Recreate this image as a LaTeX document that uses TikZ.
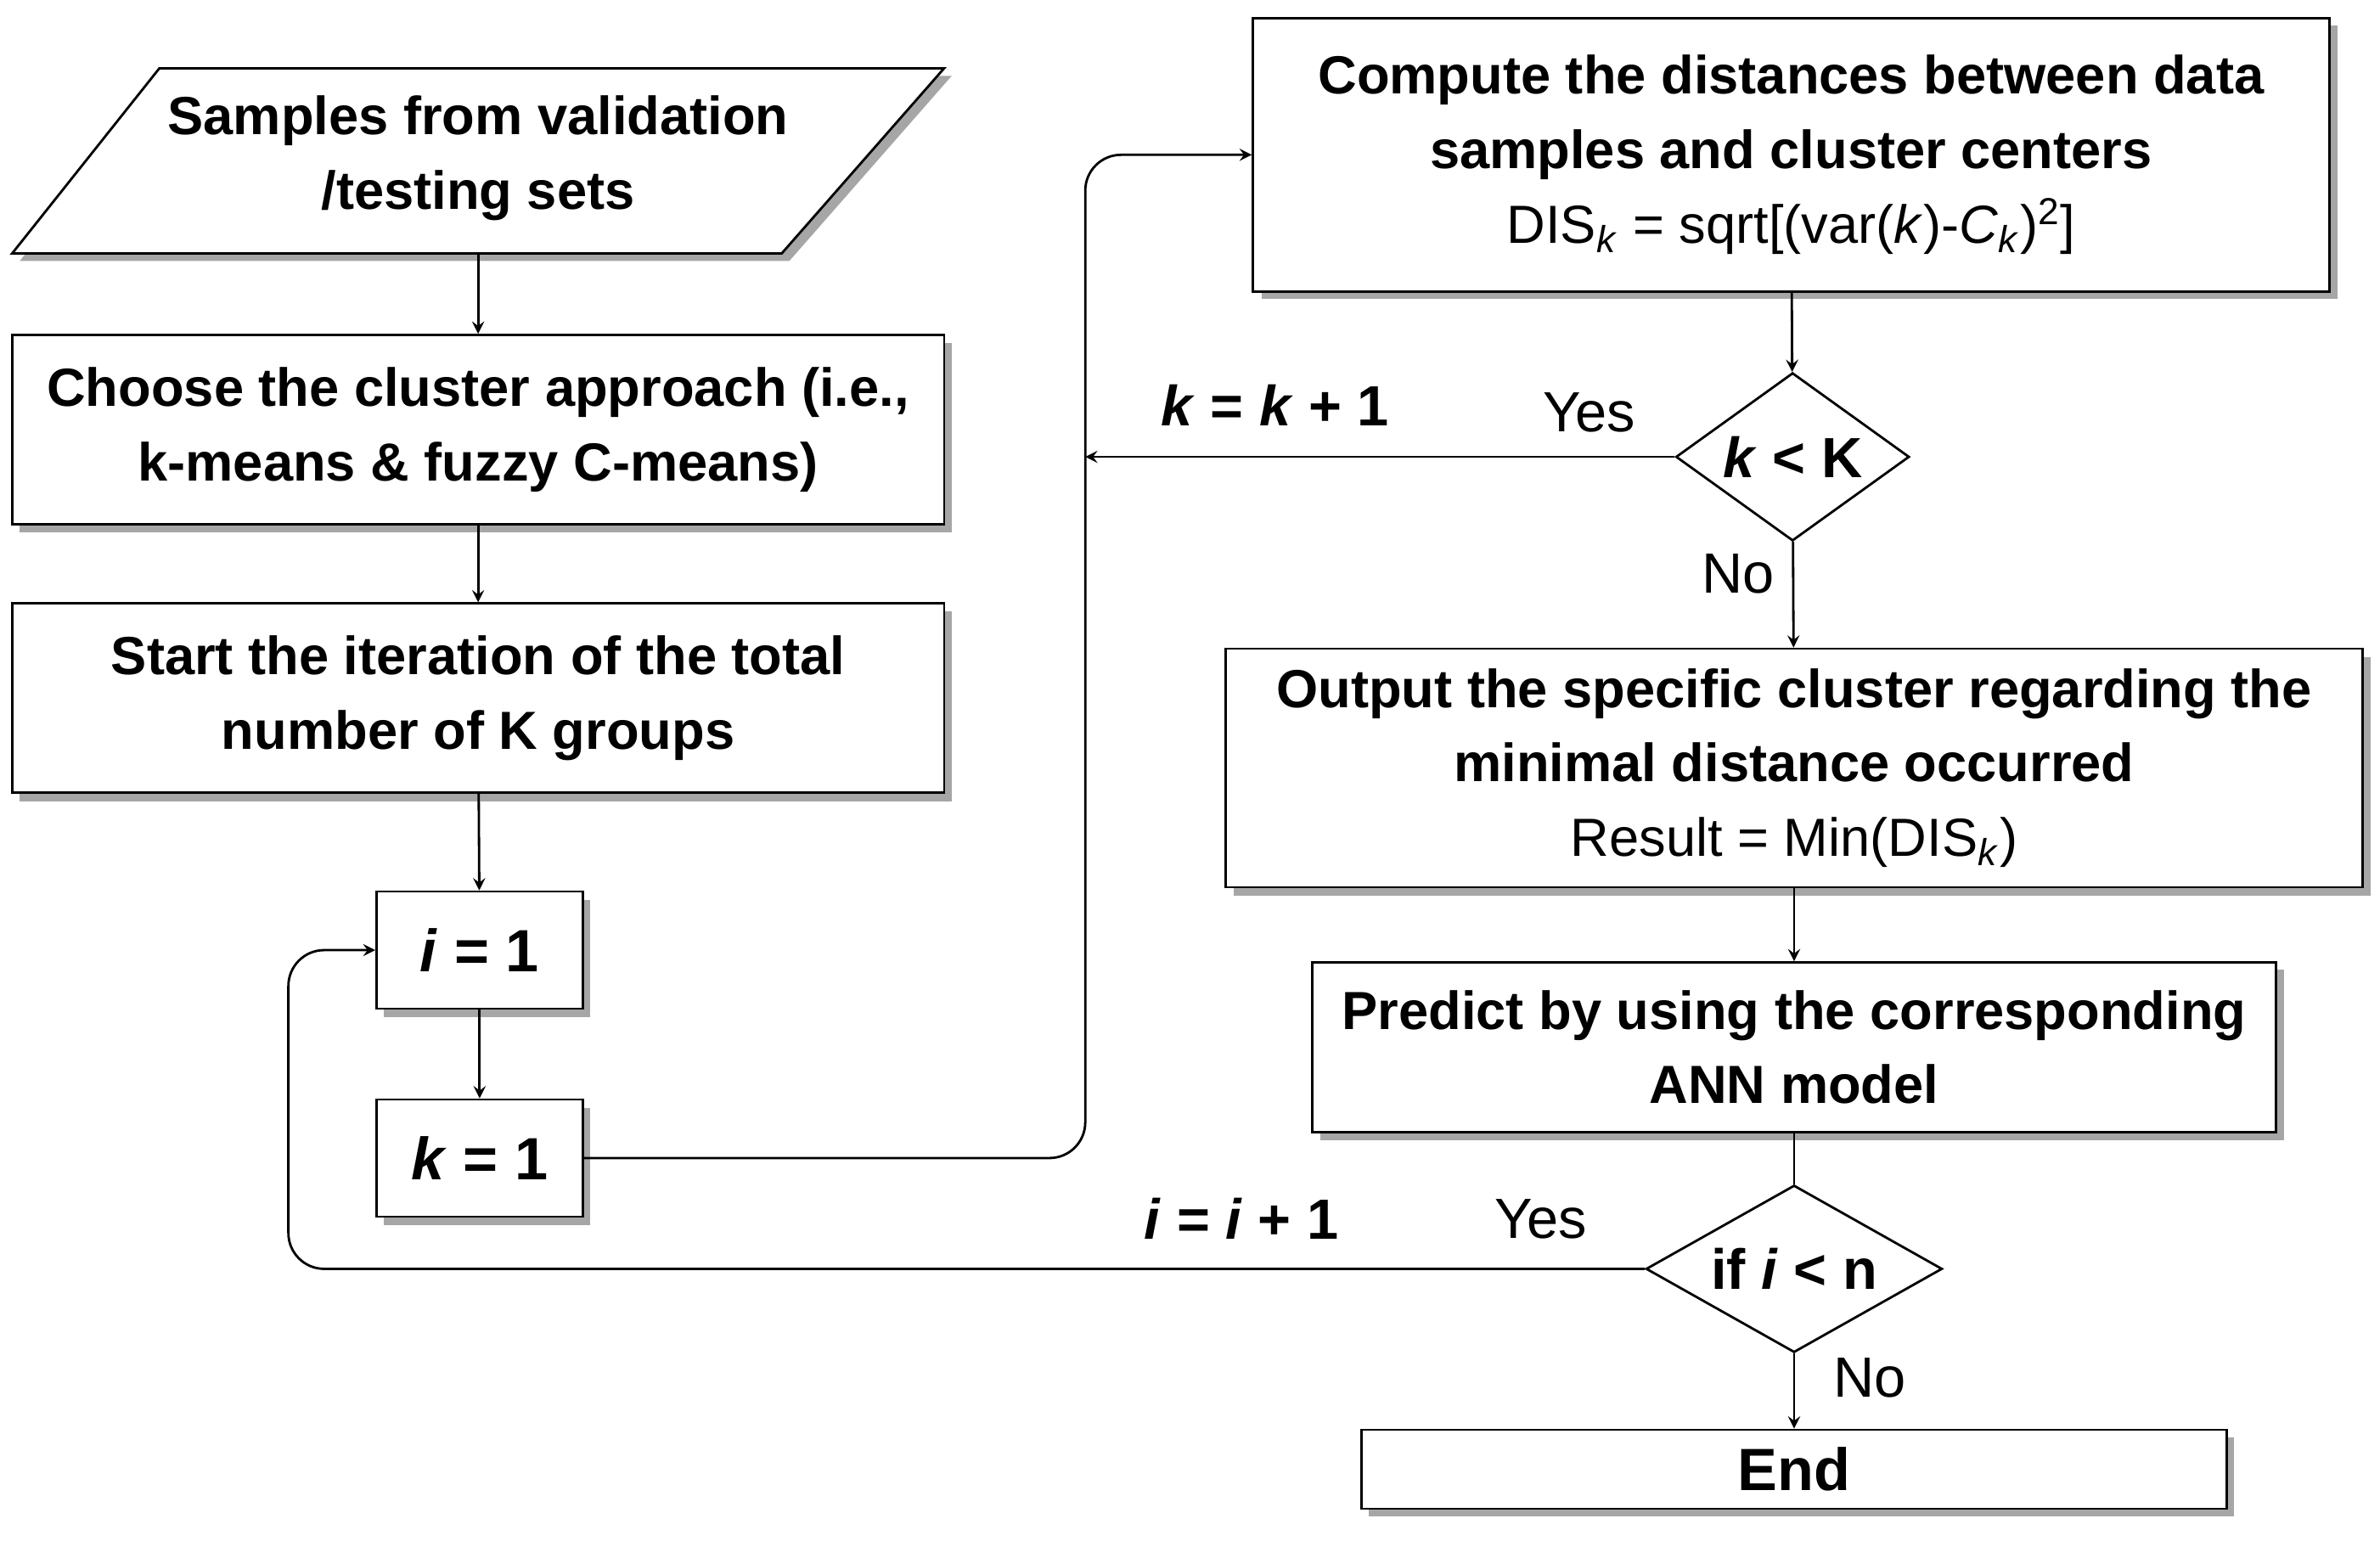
\documentclass[tikz,border=0pt]{standalone}
\usepackage{fontspec}
\setmainfont{Liberation Sans}
\usetikzlibrary{shapes.geometric, arrows, positioning}

\tikzset{
    box/.style={draw, thick, fill=white, align=center, inner sep=2pt,
        font=\fontsize{18}{25}\selectfont\bfseries},
    dec/.style={draw, thick, diamond, aspect=1.4, fill=white, inner sep=0pt,
        font=\fontsize{19}{22}\selectfont\bfseries},
    lab/.style={font=\fontsize{19}{22}\selectfont\bfseries},
    plain/.style={font=\fontsize{19}{22}\selectfont},
    line/.style={draw, thick, >=stealth},
    shade/.style={fill=black!35}
}

\begin{document}
\begin{tikzpicture}[x=0.01788cm, y=-0.01788cm]
    \useasboundingbox (0,0) rectangle (1568,1015);

    % Shadows
    \fill[shade] (13,172) -- (520,172) -- (627,50) -- (110,50) -- cycle;
    \foreach \a/\b/\c/\d in {8/221/622/346, 8/398/622/523, 248/588/384/665,
        248/725/384/802, 826/12/1535/192, 808/428/1557/585, 865/634/1500/746,
        897/942/1467/994}
        \fill[shade] (\a+5,\b+5) rectangle (\c+5,\d+5);

    % Input
    \draw[thick, fill=white] (8,167) -- (515,167) -- (622,45) -- (105,45) -- cycle;
    \node[align=center, font=\fontsize{18}{25}\selectfont\bfseries] (samp) at (315,104)
        {Samples from validation\\/testing sets};
    \coordinate (sampb) at (315,167);

    % Left column
    \node[box, minimum width=10.98cm, minimum height=2.23cm] (appr) at (315,283)
        {Choose the cluster approach (i.e.,\\k-means \& fuzzy C-means)};
    \node[box, minimum width=10.98cm, minimum height=2.23cm] (iter) at (315,460)
        {Start the iteration of the total\\number of K groups};
    \node[box, minimum width=2.43cm, minimum height=1.38cm] (ione) at (316,626)
        {\fontsize{20}{22}\selectfont\textit{i} = 1};
    \node[box, minimum width=2.43cm, minimum height=1.38cm] (kone) at (316,763)
        {\fontsize{20}{22}\selectfont\textit{k} = 1};

    % Right column
    \node[box, minimum width=12.68cm, minimum height=3.22cm] (dist) at (1180,102)
        {Compute the distances between data\\samples and cluster centers\\
         \mdseries DIS\textsubscript{\textit{k}} = sqrt[(var(\textit{k})-\textit{C}\textsubscript{\textit{k}})\textsuperscript{2}]};
    \node[dec, minimum width=2.75cm, minimum height=1.98cm] (kcmp) at (1181,301)
        {\textit{k} < K};
    \node[box, minimum width=13.39cm, minimum height=2.81cm] (outp) at (1182,506)
        {Output the specific cluster regarding the\\minimal distance occurred\\
         \mdseries Result = Min(DIS\textsubscript{\textit{k}})};
    \node[box, minimum width=11.35cm, minimum height=2.0cm] (pred) at (1182,690)
        {Predict by using the corresponding\\ANN model};
    \node[dec, minimum width=3.49cm, minimum height=1.97cm] (icmp) at (1182,836)
        {if \textit{i} < n};
    \node[box, minimum width=10.19cm, minimum height=0.93cm] (fin) at (1182,968)
        {\fontsize{20}{22}\selectfont End};

    % Connectors
    \draw[line, ->] (sampb) -- (appr);
    \draw[line, ->] (appr) -- (iter);
    \draw[line, ->] (iter) -- (ione);
    \draw[line, ->] (ione) -- (kone);
    \draw[line, ->, rounded corners=12pt] (kone.east) -- (715,763) -- (715,102) -- (dist.west);
    \draw[line, ->] (dist) -- (kcmp);
    \draw[line, ->] (kcmp.west) -- (715,301);
    \draw[line, ->] (kcmp) -- (outp);
    \draw[line, ->] (outp) -- (pred);
    \draw[line] (pred) -- (icmp);
    \draw[line, ->, rounded corners=12pt] (icmp.west) -- (190,836) -- (190,626) -- (ione.west);
    \draw[line, ->] (icmp) -- (fin);

    % Labels
    \node[lab] at (840,267) {\textit{k} = \textit{k} + 1};
    \node[plain] at (1047,272) {Yes};
    \node[plain] at (1145,378) {No};
    \node[lab] at (818,803) {\textit{i} = \textit{i} + 1};
    \node[plain] at (1015,803) {Yes};
    \node[plain] at (1232,908) {No};
\end{tikzpicture}
\end{document}
